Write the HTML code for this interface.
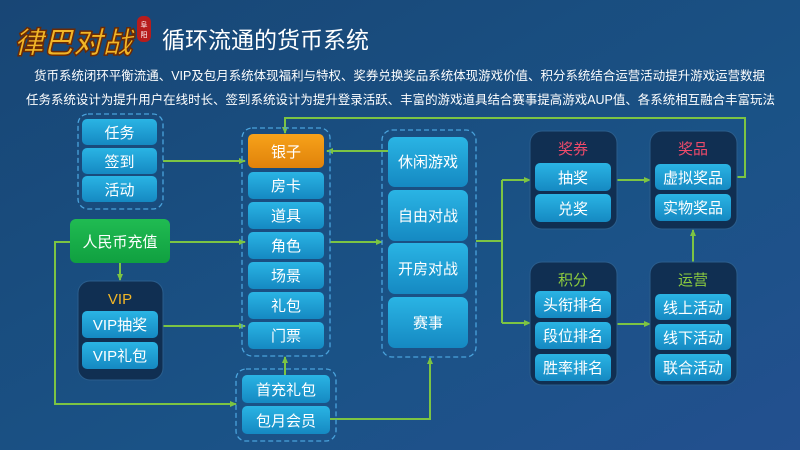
<!DOCTYPE html>
<html><head><meta charset="utf-8"><style>
html,body{margin:0;padding:0;width:800px;height:450px;overflow:hidden}
svg{display:block}
text{font-family:"Liberation Sans","Noto Sans CJK SC",sans-serif}
</style></head><body>
<svg width="800" height="450" viewBox="0 0 800 450" xmlns="http://www.w3.org/2000/svg">
<defs>
<linearGradient id="bg" x1="0" y1="0" x2="1" y2="1">
<stop offset="0" stop-color="#184675"/><stop offset="0.6" stop-color="#1a5286"/><stop offset="1" stop-color="#23508f"/>
</linearGradient>
<linearGradient id="cy" x1="0" y1="0" x2="0" y2="1">
<stop offset="0" stop-color="#2ab4e4"/><stop offset="1" stop-color="#1589c2"/>
</linearGradient>
<linearGradient id="or" x1="0" y1="0" x2="0" y2="1">
<stop offset="0" stop-color="#f7a21a"/><stop offset="1" stop-color="#e0820a"/>
</linearGradient>
<linearGradient id="gr" x1="0" y1="0" x2="0" y2="1">
<stop offset="0" stop-color="#20bb52"/><stop offset="1" stop-color="#10a040"/>
</linearGradient>
<marker id="a" markerWidth="8" markerHeight="8" refX="6" refY="4" orient="auto" markerUnits="userSpaceOnUse">
<path d="M0,1 L7,4 L0,7 Z" fill="#7cc443"/></marker>
</defs>
<rect width="800" height="450" fill="url(#bg)"/>

<!-- logo -->
<text x="14" y="53" font-size="30" font-weight="bold" fill="#f2b627" stroke="#6b2a05" stroke-width="1.5" font-style="italic" textLength="118" lengthAdjust="spacingAndGlyphs">律巴对战</text>
<rect x="137" y="16" width="14" height="26" rx="6" fill="#b71c1c"/>
<text x="144" y="27" font-size="7" fill="#fff" text-anchor="middle">阜</text>
<text x="144" y="37" font-size="7" fill="#fff" text-anchor="middle">阳</text>

<text x="162" y="48" font-size="23" fill="#fff">循环流通的货币系统</text>
<text x="34" y="80" font-size="12.5" fill="#fff" textLength="731" lengthAdjust="spacingAndGlyphs">货币系统闭环平衡流通、VIP及包月系统体现福利与特权、奖券兑换奖品系统体现游戏价值、积分系统结合运营活动提升游戏运营数据</text>
<text x="26" y="104" font-size="12.5" fill="#fff" textLength="749" lengthAdjust="spacingAndGlyphs">任务系统设计为提升用户在线时长、签到系统设计为提升登录活跃、丰富的游戏道具结合赛事提高游戏AUP值、各系统相互融合丰富玩法</text>

<!-- connectors -->
<g stroke="#7cc443" stroke-width="2" fill="none">
<path d="M163,161 H245" marker-end="url(#a)"/>
<path d="M70,242 H55 V404 H236" marker-end="url(#a)"/>
<path d="M170,242 H245" marker-end="url(#a)"/>
<path d="M120,263 V280" marker-end="url(#a)"/>
<path d="M163,326 H245" marker-end="url(#a)"/>
<path d="M285,375 V357" marker-end="url(#a)"/>
<path d="M330,419 H430 V358" marker-end="url(#a)"/>
<path d="M330,242 H382" marker-end="url(#a)"/>
<path d="M388,151 H327" marker-end="url(#a)"/>
<path d="M737,177 H745 V118 H285 V133" marker-end="url(#a)"/>
<path d="M476,241 H502"/>
<path d="M502,180 V323"/>
<path d="M502,180 H530" marker-end="url(#a)"/>
<path d="M502,323 H530" marker-end="url(#a)"/>
<path d="M617,180 H650" marker-end="url(#a)"/>
<path d="M617,324 H650" marker-end="url(#a)"/>
<path d="M693,262 V230" marker-end="url(#a)"/>
</g>

<!-- dashed containers -->
<g fill="none" stroke="#4aa3dc" stroke-width="1.3" stroke-dasharray="5,3">
<rect x="78" y="114" width="85" height="95" rx="10"/>
<rect x="242" y="128" width="88" height="228" rx="10"/>
<rect x="236" y="369" width="100" height="72" rx="10"/>
<rect x="382" y="130" width="94" height="227" rx="10"/>
</g>

<!-- dark boxes -->
<g fill="#102f52" stroke="#2a5d8c" stroke-width="1">
<rect x="78" y="281" width="85" height="99" rx="12"/>
<rect x="530" y="131" width="87" height="98" rx="12"/>
<rect x="650" y="131" width="87" height="98" rx="12"/>
<rect x="530" y="262" width="87" height="123" rx="12"/>
<rect x="650" y="262" width="87" height="123" rx="12"/>
</g>

<g font-size="15" fill="#fff" text-anchor="middle">
<rect x="82" y="119" width="75" height="26" rx="5" fill="url(#cy)"/><text x="119.5" y="138">任务</text>
<rect x="82" y="148" width="75" height="26" rx="5" fill="url(#cy)"/><text x="119.5" y="167">签到</text>
<rect x="82" y="176" width="75" height="26" rx="5" fill="url(#cy)"/><text x="119.5" y="195">活动</text>
<rect x="70" y="219" width="100" height="44" rx="6" fill="url(#gr)"/><text x="120" y="247">人民币充值</text>
<text x="120" y="304" fill="#f2b627">VIP</text>
<rect x="82" y="311" width="76" height="27" rx="5" fill="url(#cy)"/><text x="120" y="330">VIP抽奖</text>
<rect x="82" y="342" width="76" height="27" rx="5" fill="url(#cy)"/><text x="120" y="361">VIP礼包</text>
<rect x="248" y="134" width="76" height="34" rx="5" fill="url(#or)"/><text x="286" y="157">银子</text>
<rect x="248" y="172" width="76" height="27" rx="5" fill="url(#cy)"/><text x="286" y="191">房卡</text>
<rect x="248" y="202" width="76" height="27" rx="5" fill="url(#cy)"/><text x="286" y="221">道具</text>
<rect x="248" y="232" width="76" height="27" rx="5" fill="url(#cy)"/><text x="286" y="251">角色</text>
<rect x="248" y="262" width="76" height="27" rx="5" fill="url(#cy)"/><text x="286" y="281">场景</text>
<rect x="248" y="292" width="76" height="27" rx="5" fill="url(#cy)"/><text x="286" y="311">礼包</text>
<rect x="248" y="322" width="76" height="27" rx="5" fill="url(#cy)"/><text x="286" y="341">门票</text>
<rect x="242" y="375" width="88" height="28" rx="5" fill="url(#cy)"/><text x="286" y="395">首充礼包</text>
<rect x="242" y="406" width="88" height="28" rx="5" fill="url(#cy)"/><text x="286" y="426">包月会员</text>
<rect x="388" y="137" width="80" height="50" rx="7" fill="url(#cy)"/><text x="428" y="167">休闲游戏</text>
<rect x="388" y="190" width="80" height="51" rx="7" fill="url(#cy)"/><text x="428" y="221">自由对战</text>
<rect x="388" y="243" width="80" height="51" rx="7" fill="url(#cy)"/><text x="428" y="274">开房对战</text>
<rect x="388" y="297" width="80" height="51" rx="7" fill="url(#cy)"/><text x="428" y="328">赛事</text>
<text x="573" y="154" fill="#ee4a6a">奖券</text>
<rect x="535" y="163" width="76" height="28" rx="5" fill="url(#cy)"/><text x="573" y="183">抽奖</text>
<rect x="535" y="194" width="76" height="28" rx="5" fill="url(#cy)"/><text x="573" y="214">兑奖</text>
<text x="693" y="154" fill="#ee4a6a">奖品</text>
<rect x="655" y="164" width="76" height="26" rx="5" fill="url(#cy)"/><text x="693" y="183">虚拟奖品</text>
<rect x="655" y="194" width="76" height="27" rx="5" fill="url(#cy)"/><text x="693" y="213">实物奖品</text>
<text x="573" y="285" fill="#8dcc3e">积分</text>
<rect x="535" y="291" width="76" height="27" rx="5" fill="url(#cy)"/><text x="573" y="310">头衔排名</text>
<rect x="535" y="322" width="76" height="27" rx="5" fill="url(#cy)"/><text x="573" y="341">段位排名</text>
<rect x="535" y="354" width="76" height="27" rx="5" fill="url(#cy)"/><text x="573" y="373">胜率排名</text>
<text x="693" y="285" fill="#8dcc3e">运营</text>
<rect x="655" y="294" width="76" height="26" rx="5" fill="url(#cy)"/><text x="693" y="313">线上活动</text>
<rect x="655" y="324" width="76" height="26" rx="5" fill="url(#cy)"/><text x="693" y="343">线下活动</text>
<rect x="655" y="354" width="76" height="27" rx="5" fill="url(#cy)"/><text x="693" y="373">联合活动</text>
</g>
</svg>
</body></html>
